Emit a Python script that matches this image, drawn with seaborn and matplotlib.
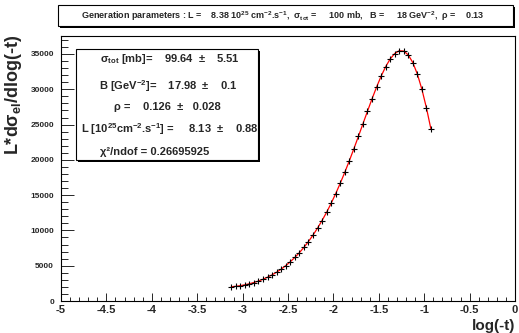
import matplotlib
matplotlib.use("Agg")
import matplotlib.pyplot as plt
import matplotlib.patches as mpatches
import seaborn as sns
import numpy as np
import pandas as pd

# simulated elastic data
log_t = [-3.125, -3.075, -3.025, -2.975, -2.925, -2.875, -2.825, -2.775, -2.725,
         -2.675, -2.625, -2.575, -2.525, -2.475, -2.425, -2.375, -2.325, -2.275,
         -2.225, -2.175, -2.125, -2.075, -2.025, -1.975, -1.925, -1.875, -1.825,
         -1.775, -1.725, -1.675, -1.625, -1.575, -1.525, -1.475, -1.425, -1.375,
         -1.325, -1.275, -1.225, -1.175, -1.125, -1.075, -1.025, -0.975, -0.925]
counts = [2015, 2080, 2172, 2295, 2441, 2621, 2830, 3079, 3373,
          3704, 4087, 4520, 5009, 5558, 6166, 6844, 7593, 8421,
          9330, 10323, 11406, 12561, 13836, 15205, 16668, 18220, 19854,
          21556, 23310, 25094, 26879, 28629, 30298, 31839, 33189, 34289,
          35068, 35464, 35410, 34861, 33774, 32141, 29978, 27343, 24305]

x_ticks = [-5, -4.5, -4, -3.5, -3, -2.5, -2, -1.5, -1, -0.5, 0]
x_tick_labels = ["-5", "-4.5", "-4", "-3.5", "-3", "-2.5", "-2", "-1.5", "-1", "-0.5", "0"]
y_ticks = [0, 5000, 10000, 15000, 20000, 25000, 30000, 35000]

gen_text = ("Generation parameters : L =    8.38 10$^{25}$ cm$^{-2}$.s$^{-1}$,  "
            "σ$_{tot}$ =     100 mb,   B =     18 GeV$^{-2}$,  ρ =    0.13")
fit_lines = [
    "σ$_{tot}$ [mb]=    99.64  ±    5.51",
    "B [GeV$^{-2}$]=    17.98  ±    0.1",
    "ρ =    0.126  ±   0.028",
    "L [10$^{25}$cm$^{-2}$.s$^{-1}$] =     8.13  ±    0.88",
    "χ²/ndof = 0.26695925",
]

df = pd.DataFrame({"logt": log_t, "counts": counts})

sns.set_theme(style="ticks")
plt.rcParams["font.family"] = ["Liberation Sans", "DejaVu Sans"]
plt.rcParams["mathtext.default"] = "regular"

W, H = 519, 333
fig = plt.figure(figsize=(W / 100, H / 100), dpi=100)
ax = fig.add_axes([61 / W, 32 / H, 454 / W, 265 / H])

sns.lineplot(data=df, x="logt", y="counts", ax=ax, color="red", linewidth=0.9)
sns.scatterplot(data=df, x="logt", y="counts", ax=ax, color="black", marker="+",
                s=22, linewidth=0.8, zorder=3)

ax.set_xlim(-5, 0)
ax.set_ylim(0, 37550)
ax.set_xlabel("")
ax.set_ylabel("")
ax.set_xticks(x_ticks)
ax.set_xticklabels(x_tick_labels, fontsize=8, fontweight="bold")
ax.set_yticks(y_ticks)
ax.set_yticklabels([str(v) for v in y_ticks], fontsize=6, fontweight="bold")
ax.set_xticks(np.arange(-5, 0.001, 0.1), minor=True)
ax.set_yticks(np.arange(0, 37001, 1000), minor=True)
ax.tick_params(axis="x", which="major", direction="in", length=5.8, width=0.7, pad=3)
ax.tick_params(axis="x", which="minor", direction="in", length=2.9, width=0.7)
ax.tick_params(axis="y", which="major", direction="in", length=9.4, width=0.7, pad=5)
ax.tick_params(axis="y", which="minor", direction="in", length=4.7, width=0.7)
for sp in ax.spines.values():
    sp.set_linewidth(0.8)
    sp.set_color("black")

fig.text(515 / W, 1 - 326 / H, "log(-t)", fontsize=11, fontweight="bold",
         ha="right", va="center")
fig.text(14 / W, 1 - 35 / H, "L*dσ$_{el}$/dlog(-t)", fontsize=13, fontweight="bold",
         rotation=90, ha="center", va="top")


def box(x0, y0, x1, y1):
    # pixel coords from top-left, ROOT style pave with shadow
    sh = mpatches.Rectangle(((x0 + 2) / W, 1 - (y1 + 2) / H), (x1 - x0) / W, (y1 - y0) / H,
                            transform=fig.transFigure, facecolor="black", edgecolor="none")
    fr = mpatches.Rectangle((x0 / W, 1 - y1 / H), (x1 - x0) / W, (y1 - y0) / H,
                            transform=fig.transFigure, facecolor="white",
                            edgecolor="black", linewidth=0.8)
    fig.patches.extend([sh, fr])


box(58, 5, 513, 26)
fig.text(283 / W, 1 - 16 / H, gen_text, fontsize=6.5, fontweight="bold",
         ha="center", va="center")

box(76, 49, 258, 160)
line_y = [59, 86, 107, 129, 152]
line_x = [170, 168, 167, 170, 155]
for t, lx, ly in zip(fit_lines, line_x, line_y):
    fig.text(lx / W, 1 - ly / H, t, fontsize=8, fontweight="bold", ha="center", va="center")

fig.savefig("out.png", dpi=100)
